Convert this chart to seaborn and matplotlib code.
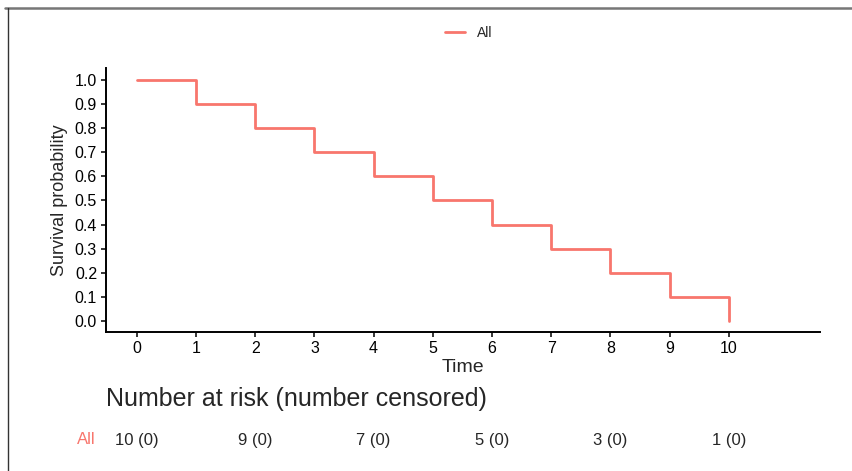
import numpy as np
import pandas as pd
import matplotlib
matplotlib.use("Agg")
import matplotlib.pyplot as plt
import matplotlib.transforms as mtransforms
from matplotlib.lines import Line2D
import seaborn as sns

# Kaplan-Meier curve values
times = [0, 1, 2, 3, 4, 5, 6, 7, 8, 9, 10]
survival = [1.0, 0.9, 0.8, 0.7, 0.6, 0.5, 0.4, 0.3, 0.2, 0.1, 0.0]

# risk table
risk_times = [0, 2, 4, 6, 8, 10]
at_risk = [10, 9, 7, 5, 3, 1]
censored = [0, 0, 0, 0, 0, 0]

group = "All"
color = "#F8766D"

df = pd.DataFrame({"Time": times, "Survival probability": survival, "group": group})

sns.set_style("ticks")
plt.rcParams["font.family"] = ["Liberation Sans", "DejaVu Sans"]

fig = plt.figure(figsize=(8.53, 4.71), dpi=100)
ax = fig.add_axes([0.1243, 0.2951, 0.837, 0.5605])

sns.lineplot(data=df, x="Time", y="Survival probability", hue="group",
             palette=[color], drawstyle="steps-post", linewidth=2.0, ax=ax)

ax.set_xlim(-0.52, 11.54)
ax.set_ylim(-0.046, 1.05)
ax.set_xticks(range(0, 11))
ax.set_yticks(np.round(np.arange(0, 1.01, 0.1), 1))
ax.yaxis.set_major_formatter(matplotlib.ticker.FormatStrFormatter("%.1f"))
ax.tick_params(axis="x", labelsize=11.5, length=3.5, width=1.1, colors="black", pad=3)
ax.tick_params(axis="y", labelsize=11.5, length=3.5, width=1.1, colors="black", pad=3)
for side in ["left", "bottom"]:
    ax.spines[side].set_linewidth(1.4)
    ax.spines[side].set_color("black")
sns.despine(ax=ax)
ax.set_xlabel("Time", fontsize=14, labelpad=2)
ax.set_ylabel("Survival probability", fontsize=13, labelpad=5)

ax.legend(loc="center", bbox_to_anchor=(0.549, 0.930), bbox_transform=fig.transFigure,
          frameon=False, fontsize=10, handlelength=1.5, handletextpad=0.8)

# risk table below the plot
fig.text(106 / 853, 1 - 399 / 471, "Number at risk (number censored)",
         fontsize=18, ha="left", va="center")
trans = mtransforms.blended_transform_factory(ax.transData, fig.transFigure)
row_y = 1 - 440 / 471
for t, n, c in zip(risk_times, at_risk, censored):
    ax.text(t, row_y, f"{n} ({c})", transform=trans, fontsize=12,
            ha="center", va="center", clip_on=False)
fig.text(86 / 853, row_y, group, color=color, fontsize=12, ha="center", va="center")

# frame edges of the original screenshot
fig.add_artist(Line2D([5 / 853, 1], [1 - 8 / 471, 1 - 8 / 471], transform=fig.transFigure,
                      color="#777777", linewidth=1.8))
fig.add_artist(Line2D([8 / 853, 8 / 853], [0, 1 - 8 / 471], transform=fig.transFigure,
                      color="#333333", linewidth=1.0))

fig.savefig("out.png", dpi=100)
